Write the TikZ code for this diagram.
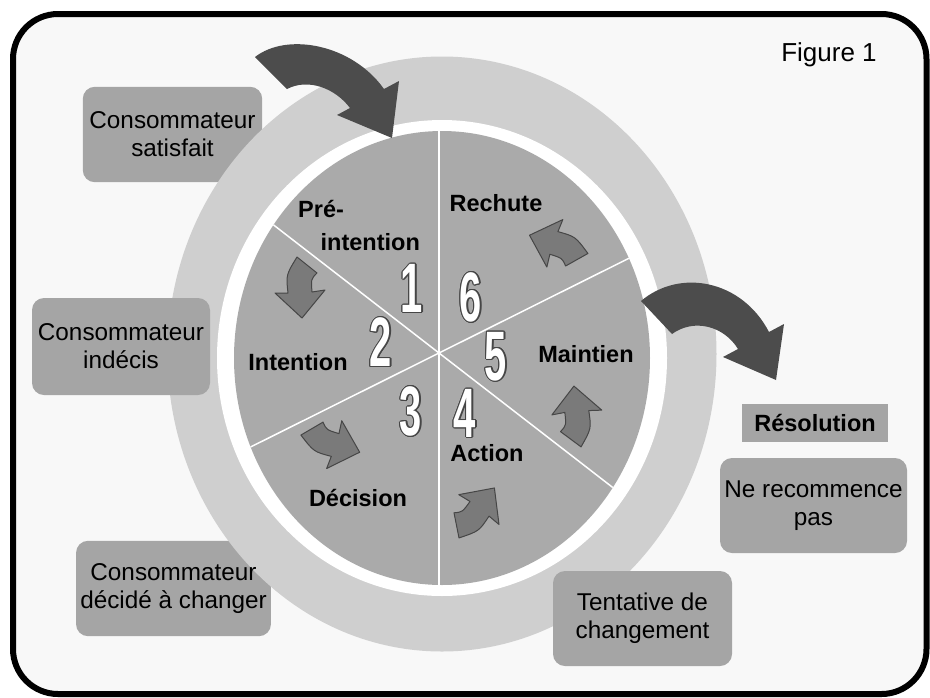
\documentclass[tikz,border=0pt]{standalone}
\usepackage{fontspec}
\setmainfont{Liberation Sans}
\usepackage{contour}
\usepackage{tikz}
\usetikzlibrary{backgrounds}

\definecolor{framebg}{RGB}{248,248,248}
\definecolor{ringgrey}{RGB}{207,207,207}
\definecolor{piegrey}{RGB}{170,170,170}
\definecolor{boxgrey}{RGB}{165,165,165}
\definecolor{bigarrow}{RGB}{76,76,76}
\definecolor{smallarrow}{RGB}{122,122,122}
\definecolor{numedge}{RGB}{70,70,70}

\contourlength{1.1pt}

\newcommand{\stagearrow}[3]{%
  \draw[smallarr, shift={(#1,#2)}, rotate=#3] (-3,-30) -- (17,-14) .. controls (11,-8) .. (12,5) -- (25,3) -- (2,31) -- (-25,6) -- (-12,6) .. controls (-14,-12) .. (-3,-30) -- cycle;}
\newcommand{\stagedigit}[1]{\contour{numedge}{\scalebox{0.57}[1]{#1}}}

\begin{document}
\begin{tikzpicture}[x=1pt, y=-1pt]
% Styles
\tikzstyle{stagebox} = [rectangle, rounded corners=12pt, fill=boxgrey, minimum width=179pt, minimum height=95pt, text centered, align=center, inner sep=4pt, font=\fontsize{24.3}{28}\selectfont]
\tikzstyle{stagename} = [inner sep=0pt, align=center, font=\bfseries\fontsize{23.5}{33}\selectfont]
\tikzstyle{stagenum} = [inner sep=0pt, text=white, font=\bfseries\fontsize{70}{70}\selectfont]
\tikzstyle{smallarr} = [fill=smallarrow, draw=numedge, line width=1pt, line join=round]
\tikzstyle{bigarr} = [fill=bigarrow]
\tikzstyle{divider} = [white, line width=1.5pt]

\useasboundingbox (0,0) rectangle (930,697);

% Frame
\begin{pgfonlayer}{background}
\draw[line width=6pt, rounded corners=45pt, fill=framebg] (13,14) rectangle (926.5,694);
\end{pgfonlayer}

% Wheel
\fill[ringgrey] (442,354) ellipse [x radius=274.5pt, y radius=297.5pt];
\fill[white] (442,358) ellipse [x radius=225pt, y radius=238pt];
\fill[piegrey] (442,358) ellipse [x radius=208pt, y radius=227pt];
\begin{scope}
\clip (442,358) ellipse [x radius=208pt, y radius=227pt];
\draw[divider] (439,40) -- (439,680);
\draw[divider] (39,552.5) -- (839,153.5);
\draw[divider] (39,43.4) -- (839,662.6);
\end{scope}

% Big arrows
\fill[bigarr] (255,57) .. controls (287,32) and (352,44) .. (384,89) -- (399,81) -- (392,138) -- (337,115) -- (350,108) .. controls (335,88) and (308,78) .. (287,89) -- cycle;
\fill[bigarr] (641,301) .. controls (680,268) and (742,280) .. (769,332) -- (784,324) -- (776,380) -- (723,357) -- (738,349) .. controls (724,326) and (694,318) .. (672,334) -- cycle;

% Small arrows
\foreach \x/\y/\r in {300/287/0, 330/443/69, 476/513/140, 577/417/182, 559/245/248}
  {\stagearrow{\x}{\y}{\r}}

% Nodes
\node (figure) at (829,55) {\fontsize{26}{30}\selectfont Figure 1};

\node (satisfait) [stagebox, fill=none] at (172.5,134.5) {Consommateur\\satisfait};
\node (indecis) [stagebox, minimum width=178pt, minimum height=97pt] at (121,346.5) {Consommateur\\indécis};
\node (decide) [stagebox, fill=none, minimum width=193pt] at (173.5,588.5) {Consommateur\\décidé à changer};
\node (tentative) [stagebox] at (642.5,618.5) {Tentative de\\changement};
\node (recommence) [stagebox, minimum width=187pt] at (813.5,505.5) {Ne recommence\\pas};
\node (resolution) [stagename, fill=boxgrey, minimum width=146pt, minimum height=38pt] at (815,423) {Résolution};

\begin{pgfonlayer}{background}
\fill[boxgrey, rounded corners=12pt] (satisfait.south west) rectangle (satisfait.north east);
\fill[boxgrey, rounded corners=12pt] (decide.south west) rectangle (decide.north east);
\end{pgfonlayer}

\node (preintention) [stagename, align=left, anchor=west] at (298,225) {Pré-\\\hspace*{22.5pt}intention};
\node (intention) [stagename] at (298,362) {Intention};
\node (decision) [stagename] at (358,498) {Décision};
\node (action) [stagename] at (487,453) {Action};
\node (maintien) [stagename] at (586,354) {Maintien};
\node (rechute) [stagename] at (496,203) {Rechute};

\node (n1) [stagenum] at (412,289) {\stagedigit{1}};
\node (n2) [stagenum] at (381,343) {\stagedigit{2}};
\node (n3) [stagenum] at (411,412) {\stagedigit{3}};
\node (n4) [stagenum] at (465,414) {\stagedigit{4}};
\node (n5) [stagenum] at (496,357) {\stagedigit{5}};
\node (n6) [stagenum] at (471,298) {\stagedigit{6}};
\end{tikzpicture}
\end{document}
